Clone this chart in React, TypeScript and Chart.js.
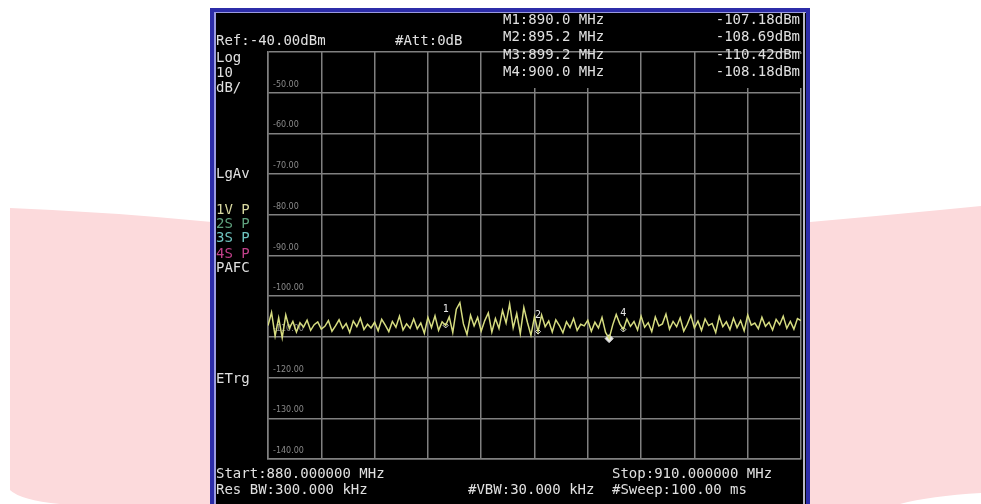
import React, { useEffect, useRef } from "react";
import { Chart, registerables } from "chart.js";

Chart.register(...registerables);

// ---------- data ----------
const startMHz = 880;
const stopMHz = 910;
const refLevelDbm = -40;
const bottomDbm = -140;
const dbPerDiv = 10;

const traceDbm: number[] = [
  -107.2, -104.0, -109.8, -105.3, -110.2, -104.6, -107.9, -106.2, -108.8, -106.5,
  -107.6, -105.9, -108.4, -107.0, -106.3, -108.1, -107.4, -106.0, -108.6, -107.3,
  -105.8, -107.9, -106.7, -108.9, -106.1, -107.5, -105.4, -108.2, -106.9, -107.8,
  -106.4, -108.5, -105.7, -107.1, -108.7, -106.2, -107.6, -104.9, -108.3, -106.8,
  -107.9, -105.6, -108.0, -106.6, -109.1, -105.2, -107.7, -104.8, -108.4, -106.3,
  -107.18,
  -105.1, -108.9, -103.2, -101.6, -106.8, -109.4, -104.7, -107.3, -105.2, -108.6,
  -106.0, -104.1, -108.8, -105.5, -107.9, -103.5, -106.6, -101.9, -107.8, -104.3,
  -109.2, -102.8, -106.4, -109.6, -105.0, -108.69, -104.6, -107.5, -106.1, -108.8,
  -105.8, -107.2, -109.0, -106.3, -107.7, -105.5, -108.4, -106.9, -107.3, -105.9,
  -108.6, -106.4, -107.8, -105.2, -108.9, -110.42, -107.1, -104.5, -106.8, -108.18,
  -105.6, -107.4, -106.2, -108.3, -104.9, -107.6, -106.5, -108.7, -105.1, -107.3,
  -106.8, -104.4, -108.1, -106.2, -107.5, -105.3, -108.6, -106.9, -104.7, -107.8,
  -106.1, -108.4, -105.6, -107.2, -106.7, -108.9, -105.0, -107.5, -106.3, -108.2,
  -105.4, -107.7, -106.0, -108.5, -104.6, -107.1, -106.6, -108.0, -105.2, -107.4,
  -106.4, -108.3, -105.7, -107.0, -104.9, -107.9, -106.2, -108.1, -105.5, -106.0,
];

const markerNames = ["1", "2", "3", "4"];
const markerMHz = [890.0, 895.2, 899.2, 900.0];
const markerDbm = [-107.18, -108.69, -110.42, -108.18];
const activeMarker = 2; // index of marker 3

const refText = "Ref:-40.00dBm";
const attText = "#Att:0dB";
const markerFreqTexts = ["M1:890.0 MHz", "M2:895.2 MHz", "M3:899.2 MHz", "M4:900.0 MHz"];
const markerValTexts = ["-107.18dBm", "-108.69dBm", "-110.42dBm", "-108.18dBm"];
const leftLabels = ["Log", "10", "dB/", "LgAv", "1V P", "2S P", "3S P", "4S P", "PAFC", "ETrg"];
const leftLabelColors = ["#e0e0e0", "#e0e0e0", "#e0e0e0", "#e0e0e0", "#d8d8a0", "#5fa27e", "#6fc4c0", "#c0408a", "#e0e0e0", "#e0e0e0"];
const startText = "Start:880.000000 MHz";
const stopText = "Stop:910.000000 MHz";
const rbwText = "Res BW:300.000 kHz";
const vbwText = "#VBW:30.000 kHz";
const sweepText = "#Sweep:100.00 ms";

const GRID = "#808080";
const MONO = "'DejaVu Sans Mono', 'Liberation Mono', monospace";

const screenPlugin = {
  id: "screen",
  beforeDraw(chart: any) {
    const ctx = chart.ctx as CanvasRenderingContext2D;
    const W = chart.width;
    const H = chart.height;
    ctx.save();
    ctx.fillStyle = "#ffffff";
    ctx.fillRect(0, 0, W, H);
    // pink band
    ctx.fillStyle = "#fcdadc";
    ctx.beginPath();
    ctx.moveTo(10, 208);
    ctx.quadraticCurveTo(110, 212, 212, 222);
    ctx.lineTo(810, 222);
    ctx.quadraticCurveTo(900, 214, W, 206);
    ctx.lineTo(W, 493);
    ctx.quadraticCurveTo(930, 496, 900, 504);
    ctx.lineTo(60, 504);
    ctx.quadraticCurveTo(20, 500, 10, 490);
    ctx.closePath();
    ctx.fill();
    // screen
    ctx.fillStyle = "#000000";
    ctx.fillRect(214, 12, 592, H - 12);
    ctx.fillStyle = "#2c2ca8";
    ctx.fillRect(210, 8, 600, 4);
    ctx.fillRect(210, 8, 4, H - 8);
    ctx.fillRect(806, 8, 4, H - 8);
    ctx.fillStyle = "#9a9ae0";
    ctx.fillRect(214, 12, 2, H - 12);
    ctx.fillRect(214, 12, 592, 1);
    ctx.fillStyle = "#b8b8c4";
    ctx.fillRect(803, 12, 2, H - 12);
    ctx.restore();
  },
  afterDraw(chart: any) {
    const ctx = chart.ctx as CanvasRenderingContext2D;
    ctx.save();
    // black boxes behind marker rows over the grid
    ctx.fillStyle = "#000000";
    ctx.fillRect(500, 54, 126, 34);
    ctx.fillRect(700, 54, 102, 34);
    ctx.font = `14px ${MONO}`;
    ctx.textBaseline = "middle";
    ctx.fillStyle = "#e0e0e0";
    ctx.textAlign = "left";
    ctx.fillText(refText, 216, 41);
    ctx.fillText(attText, 395, 41);
    const rowY = [20, 37, 55, 72];
    markerFreqTexts.forEach((t, i) => ctx.fillText(t, 503, rowY[i]));
    ctx.textAlign = "right";
    markerValTexts.forEach((t, i) => ctx.fillText(t, 800, rowY[i]));
    ctx.textAlign = "left";
    const leftY = [58, 73, 88, 174, 210, 224, 238, 254, 268, 379];
    leftLabels.forEach((t, i) => {
      ctx.fillStyle = leftLabelColors[i];
      ctx.fillText(t, 216, leftY[i]);
    });
    ctx.fillStyle = "#e0e0e0";
    ctx.fillText(startText, 216, 474);
    ctx.fillText(rbwText, 216, 490);
    ctx.fillText(vbwText, 468, 490);
    ctx.fillText(stopText, 612, 474);
    ctx.fillText(sweepText, 612, 490);

    // marker numbers
    const meta = chart.getDatasetMeta(1);
    ctx.font = `10px ${MONO}`;
    ctx.textAlign = "center";
    ctx.fillStyle = "#e8e8e8";
    meta.data.forEach((pt: any, i: number) => {
      if (i === activeMarker) return;
      ctx.fillText(markerNames[i], pt.x, pt.y - 16);
    });
    ctx.restore();
  },
};

export default function App() {
  const ref = useRef<HTMLCanvasElement>(null);
  useEffect(() => {
    document.body.style.margin = "0";
    const n = traceDbm.length;
    const tracePts = traceDbm.map((v, i) => ({
      x: startMHz + (i * (stopMHz - startMHz)) / (n - 1),
      y: v,
    }));
    const markerPts = markerMHz.map((f, i) => ({ x: f, y: markerDbm[i] }));
    const chart = new Chart(ref.current!, {
      type: "line",
      data: {
        datasets: [
          {
            data: tracePts,
            borderColor: "#d6dc80",
            borderWidth: 1.5,
            pointRadius: 0,
            tension: 0,
          },
          {
            data: markerPts,
            showLine: false,
            pointStyle: "rectRot",
            pointRadius: markerPts.map((_, i) => (i === activeMarker ? 4 : 2.5)),
            pointBorderColor: "#e8e8e8",
            pointBackgroundColor: markerPts.map((_, i) => (i === activeMarker ? "#e8e8e8" : "#000000")),
            pointBorderWidth: 1,
          },
        ],
      },
      options: {
        responsive: false,
        devicePixelRatio: 1,
        animation: false,
        events: [],
        layout: { padding: { left: 268, right: 180, top: 52, bottom: 45 } },
        plugins: { legend: { display: false }, tooltip: { enabled: false } },
        scales: {
          x: {
            type: "linear",
            min: startMHz,
            max: stopMHz,
            ticks: { display: false, stepSize: (stopMHz - startMHz) / 10 },
            grid: { color: GRID, lineWidth: 1.5, drawTicks: false },
            border: { display: true, color: GRID, width: 1.5 },
            afterFit: (s: any) => {
              s.height = 0;
            },
          },
          y: {
            min: bottomDbm,
            max: refLevelDbm,
            ticks: {
              stepSize: dbPerDiv,
              mirror: true,
              padding: 5,
              labelOffset: -8,
              color: "#8a8a8a",
              font: { size: 8, family: "'DejaVu Sans'" },
              callback: (v: any) => (Number(v) === refLevelDbm ? "" : Number(v).toFixed(2)),
            },
            grid: { color: GRID, lineWidth: 1.5, drawTicks: false },
            border: { display: true, color: GRID, width: 1.5 },
            afterFit: (s: any) => {
              s.width = 0;
            },
          },
        },
      } as any,
      plugins: [screenPlugin],
    });
    return () => chart.destroy();
  }, []);
  return (
    <div style={{ width: 981, height: 504 }}>
      <canvas ref={ref} width={981} height={504} style={{ display: "block" }} />
    </div>
  );
}
